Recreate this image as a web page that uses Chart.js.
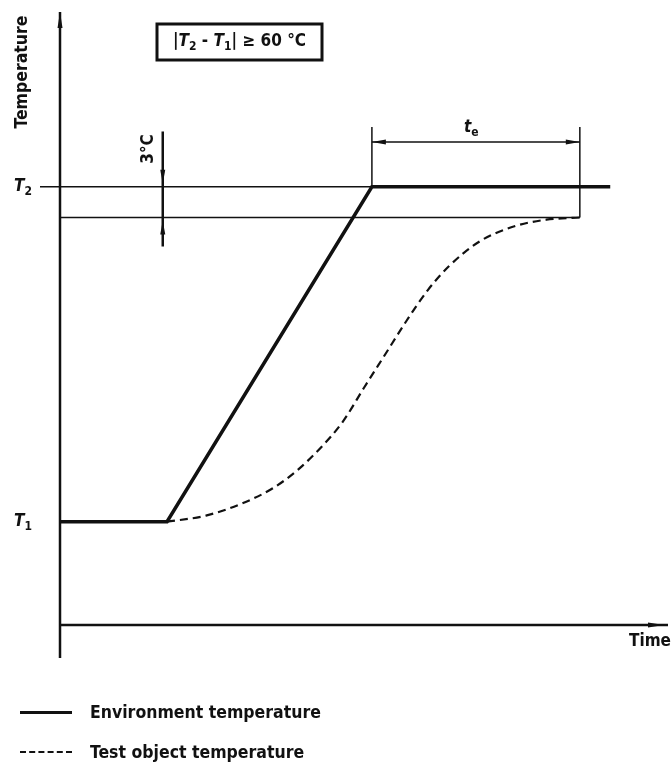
<!DOCTYPE html>
<html>
<head>
<meta charset="utf-8">
<script src="https://cdn.jsdelivr.net/npm/chart.js@4/dist/chart.umd.min.js"></script>
<style>
body { margin: 0; background: #fff; }
#wrap { position: relative; width: 671px; height: 773px; }
.leg { position: absolute; left: 20px; height: 24px; display: flex; align-items: center;
       font: bold 17.5px "DejaVu Sans Condensed", "Liberation Sans Narrow", "DejaVu Sans", sans-serif; color: #111; }
.leg .s { display: inline-block; width: 52px; margin-right: 18px; }
</style>
</head>
<body>
<div id="wrap">
  <canvas id="myChart" width="671" height="773"></canvas>
  <div class="leg" style="top:700px"><span class="s" style="border-top:3.5px solid #111"></span>Environment temperature</div>
  <div class="leg" style="top:740px"><span class="s" style="border-top:2px dashed #111"></span>Test object temperature</div>
</div>
<script>
// environment temperature (thick line)
var envTime = [0, 17.6, 51.3, 90.5];
var envTemp = [20, 20, 80, 80];

// test object temperature (dashed curve)
var objTime = [17.6, 24, 30, 35, 39, 43, 46.5, 50, 53.5, 57, 60.5, 64, 69, 75, 80, 85.5];
var objTemp = [20, 21.1, 23.3, 26.0, 29.2, 33.4, 37.9, 44.0, 50.0, 56.0, 61.5, 65.8, 70.2, 73.0, 74.1, 74.5];

// temperature levels on the y axis
var levelNames = ['1', '2'];
var levelTemps = [20, 80];
var bandLow = 74.5;          // T2 - 3 °C line (drawn exaggerated, as in the sketch)
var timeAxisAt = 1.5;        // where the time axis crosses

// dimension marks
var teStart = 51.3, teEnd = 85.5, teTop = 90.7, teArrowAt = 88;
var bandDimAt = 16.9, bandDimTop = 89.9, bandDimBottom = 69.3;

function pts(xs, ys) {
    return xs.map(function (x, i) { return { x: x, y: ys[i] }; });
}
function seg(x1, y1, x2, y2, w) {
    return { data: [{ x: x1, y: y1 }, { x: x2, y: y2 }], borderColor: '#111', borderWidth: w || 1.3, pointRadius: 0, fill: false };
}

var font = '"DejaVu Sans Condensed", "Liberation Sans Narrow", "DejaVu Sans", sans-serif';

function arrow(ctx, x, y, dx, dy, len, half) {
    // filled narrow arrowhead with tip at (x, y) pointing along (dx, dy)
    ctx.beginPath();
    ctx.moveTo(x, y);
    ctx.lineTo(x - dx * len - dy * half, y - dy * len - dx * half);
    ctx.lineTo(x - dx * len + dy * half, y - dy * len + dx * half);
    ctx.closePath();
    ctx.fill();
}

// draw runs of text: [text, fontString, dy]
function runs(ctx, parts, x, y) {
    parts.forEach(function (p) {
        ctx.font = p[1];
        ctx.fillText(p[0], x, y + (p[2] || 0));
        x += ctx.measureText(p[0]).width;
    });
    return x;
}
function runsWidth(ctx, parts) {
    var w = 0;
    parts.forEach(function (p) { ctx.font = p[1]; w += ctx.measureText(p[0]).width; });
    return w;
}

var sketchPlugin = {
    id: 'sketch',
    beforeDatasetsDraw: function (chart) {
        var ctx = chart.ctx, xs = chart.scales.x, ys = chart.scales.y, a = chart.chartArea;
        var x0 = xs.getPixelForValue(0), yAx = ys.getPixelForValue(timeAxisAt);
        ctx.save();
        ctx.strokeStyle = '#111'; ctx.fillStyle = '#111';
        ctx.lineWidth = 2.5;
        ctx.beginPath();
        ctx.moveTo(x0, a.top); ctx.lineTo(x0, a.bottom);
        ctx.moveTo(x0, yAx); ctx.lineTo(a.right, yAx);
        ctx.stroke();
        arrow(ctx, x0, a.top, 0, -1, 16, 2.5);
        arrow(ctx, a.right - 4, yAx, 1, 0, 16, 2.5);
        // tick left of the axis at T2
        var yT2 = ys.getPixelForValue(levelTemps[1]);
        ctx.lineWidth = 1.5;
        ctx.beginPath(); ctx.moveTo(x0 - 20, yT2); ctx.lineTo(x0, yT2); ctx.stroke();
        ctx.restore();
    },
    afterDatasetsDraw: function (chart) {
        var ctx = chart.ctx, xs = chart.scales.x, ys = chart.scales.y;
        ctx.save();
        ctx.fillStyle = '#111'; ctx.strokeStyle = '#111';
        ctx.textBaseline = 'middle';

        // te arrows
        var yTe = ys.getPixelForValue(teArrowAt);
        arrow(ctx, xs.getPixelForValue(teStart), yTe, -1, 0, 14, 2.5);
        arrow(ctx, xs.getPixelForValue(teEnd), yTe, 1, 0, 14, 2.5);
        // 3 °C arrows
        var xb = xs.getPixelForValue(bandDimAt);
        arrow(ctx, xb, ys.getPixelForValue(levelTemps[1]) - 3, 0, 1, 14, 2.5);
        arrow(ctx, xb, ys.getPixelForValue(bandLow) + 3, 0, -1, 14, 2.5);

        var reg = 'bold 17px ' + font, it = 'italic bold 17px ' + font, sub = 'bold 12px ' + font;

        // axis titles
        ctx.textAlign = 'center';
        ctx.font = reg;
        ctx.fillText('Time', 650, 642);
        ctx.save();
        ctx.translate(22, 72); ctx.rotate(-Math.PI / 2);
        ctx.font = 'bold 17.5px ' + font;
        ctx.fillText('Temperature', 0, 0);
        ctx.restore();
        ctx.save();
        ctx.translate(149, 149); ctx.rotate(-Math.PI / 2);
        ctx.fillText('3°C', 0, 0);
        ctx.restore();

        // level labels
        ctx.textAlign = 'left';
        levelTemps.forEach(function (t, i) {
            runs(ctx, [['T', it, 0], [levelNames[i], sub, 5]], 14, ys.getPixelForValue(t));
        });
        // te label
        runs(ctx, [['t', it, 0], ['e', sub, 5]], 464, 128);

        // box
        ctx.lineWidth = 3;
        ctx.strokeRect(157, 24, 165, 36);
        var parts = [['|', reg, 0], ['T', it, 0], ['2', sub, 5], [' - ', reg, 0], ['T', it, 0], ['1', sub, 5],
                     ['|', reg, 0], [' \u2265 60 °C', reg, 0]];
        var w = runsWidth(ctx, parts);
        runs(ctx, parts, 157 + (165 - w) / 2, 42);
        ctx.restore();
    }
};

var ctx = document.getElementById('myChart').getContext('2d');
new Chart(ctx, {
    type: 'line',
    data: {
        datasets: [
            seg(0, levelTemps[1], teStart, levelTemps[1], 1.3),
            seg(0, bandLow, teEnd, bandLow, 1.5),
            seg(teStart, levelTemps[1], teStart, teTop, 1.5),
            seg(teEnd, bandLow, teEnd, teTop, 1.5),
            seg(teStart, teArrowAt, teEnd, teArrowAt, 1.5),
            seg(bandDimAt, bandDimBottom, bandDimAt, bandDimTop, 2.5),
            { label: 'Environment temperature', data: pts(envTime, envTemp), borderColor: '#111', borderWidth: 3.5,
              pointRadius: 0, fill: false, tension: 0 },
            { label: 'Test object temperature', data: pts(objTime, objTemp), borderColor: '#111', borderWidth: 2.2,
              borderDash: [8, 5], pointRadius: 0, fill: false, cubicInterpolationMode: 'monotone' }
        ]
    },
    options: {
        responsive: false,
        devicePixelRatio: 1,
        animation: false,
        layout: { padding: { left: 60, right: 3, top: 12, bottom: 115 } },
        plugins: { legend: { display: false }, tooltip: { enabled: false } },
        scales: {
            x: { type: 'linear', min: 0, max: 100, display: false },
            y: { type: 'linear', min: -4.4, max: 111.3, display: false }
        }
    },
    plugins: [sketchPlugin]
});
</script>
</body>
</html>
